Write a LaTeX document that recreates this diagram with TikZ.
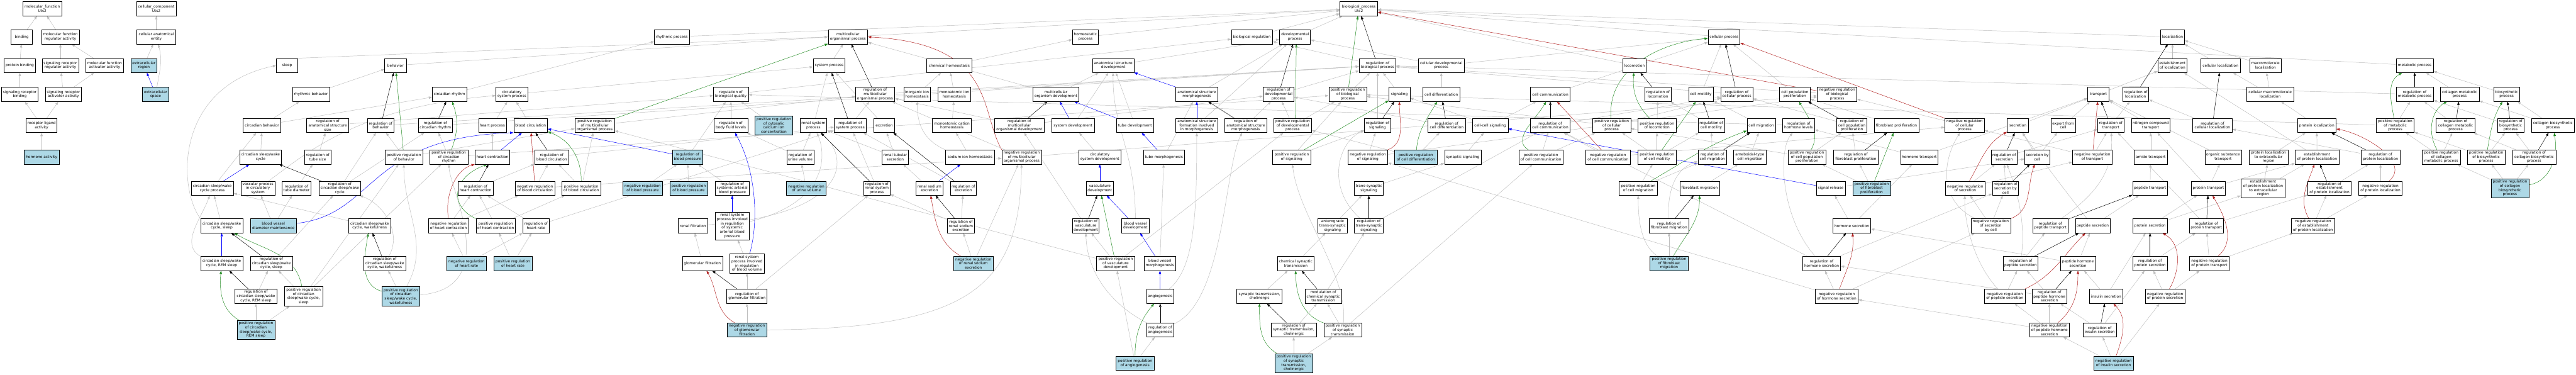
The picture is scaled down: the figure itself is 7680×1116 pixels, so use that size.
\documentclass[tikz,border=0pt]{standalone}
\usepackage{fontspec}
\newfontfamily\gofont{DejaVu Sans}
\usetikzlibrary{arrows.meta}
\definecolor{edgegray}{RGB}{190,190,190}
\definecolor{lblue}{RGB}{173,216,230}
\definecolor{posgreen}{RGB}{34,139,34}
\definecolor{negred}{RGB}{178,34,34}
\pgfdeclarelayer{bg}
\pgfsetlayers{bg,main}
\tikzset{
 n/.style={draw=black, line width=1pt, fill=white, rectangle, align=center, inner xsep=2pt, inner ysep=1pt, minimum height=42pt, font=\gofont\fontsize{11}{12.5}\selectfont},
 nb/.style={n, fill=lblue},
 W/.style={minimum width=#1pt},
 H/.style={minimum height=#1pt},
 e/.style={draw=edgegray, line width=0.9pt, -{Triangle[length=10pt,width=7pt]}},
 eb/.style={e, draw=black},
 eg/.style={e, draw=posgreen},
 er/.style={e, draw=negred},
 ebl/.style={e, draw=blue}
}
\begin{document}
\begin{tikzpicture}[x=1pt,y=1pt]
\useasboundingbox (0,0) rectangle (7680,-1116);
\begin{pgfonlayer}{bg}\fill[white] (0,0) rectangle (7680,-1116);\end{pgfonlayer}
% R0
\node[n,W=116] (mf) at (126,-26) {molecular\_function\\Uts2};
\node[n,W=119] (cc) at (466,-26) {cellular\_component\\Uts2};
\node[n,W=112] (bp) at (4051,-26) {biological\_process\\Uts2};
% R1
\node[n,W=64] (binding) at (65,-110) {binding};
\node[n,W=113] (mfra) at (180,-110) {molecular function\\regulator activity};
\node[n,W=116] (cae) at (466,-110) {cellular anatomical\\entity};
\node[n,W=104] (rhyp) at (2003,-110) {rhythmic process};
\node[n,W=118] (mop) at (2528,-110) {multicellular\\organismal process};
\node[n,W=77] (homp) at (3236,-110) {homeostatic\\process};
\node[n,W=122] (bioreg) at (3732,-110) {biological regulation};
\node[n,W=92] (devp) at (3861,-110) {developmental\\process};
\node[n,W=95] (cellp) at (5140,-110) {cellular process};
\node[n,W=71] (loc) at (6477,-110) {localization};
% R2
\node[n,W=93] (pbind) at (59,-195) {protein binding};
\node[n,W=109] (srra) at (180,-195) {signaling receptor\\regulator activity};
\node[n,W=113] (mfaa) at (312,-195) {molecular function\\activator activity};
\node[nb,W=78] (ecr) at (429,-195) {extracellular\\region};
\node[n,W=64] (sleep) at (856,-195) {sleep};
\node[n,W=64] (behav) at (1179,-195) {behavior};
\node[n,W=95] (sysp) at (2472,-195) {system process};
\node[n,W=134] (chemh) at (2830,-195) {chemical homeostasis};
\node[n,W=125] (asd) at (3319,-195) {anatomical structure\\development};
\node[n,W=109] (rbp) at (4107,-195) {regulation of\\biological process};
\node[n,W=138] (cdp) at (4297,-195) {cellular developmental\\process};
\node[n,W=69] (locom) at (4873,-195) {locomotion};
\node[n,W=87] (estloc) at (6477,-195) {establishment\\of localization};
\node[n,W=118] (cellloc) at (6620,-195) {cellular localization};
\node[n,W=95] (macloc) at (6754,-195) {macromolecule\\localization};
\node[n,W=111] (metp) at (7199,-195) {metabolic process};
% R3
\node[n,W=109] (srb) at (59,-281) {signaling receptor\\binding};
\node[n,W=108] (sraa) at (189,-281) {signaling receptor\\activator activity};
\node[nb,W=78] (ecs) at (464,-281) {extracellular\\space};
\node[n,W=111] (rhyb) at (927,-281) {rhythmic behavior};
\node[n,W=102] (circr) at (1340,-281) {circadian rhythm};
\node[n,W=95] (csp) at (1526,-281) {circulatory\\system process};
\node[n,W=104] (rbq) at (2179,-281) {regulation of\\biological quality};
\node[n,W=117] (rmop) at (2609,-281) {regulation of\\multicellular\\organismal process};
\node[n,W=80] (inorgh) at (2734,-281) {inorganic ion\\homeostasis};
\node[n,W=99] (monoh) at (2845,-281) {monoatomic ion\\homeostasis};
\node[n,W=138] (mod) at (3148,-281) {multicellular\\organism development};
\node[n,W=125] (asm) at (3568,-281) {anatomical structure\\morphogenesis};
\node[n,W=92] (rdp) at (3812,-281) {regulation of\\developmental\\process};
\node[n,W=113] (prbp) at (4018,-281) {positive regulation\\of biological\\process};
\node[n,W=63] (signaling) at (4172,-281) {signaling};
\node[n,W=111] (celldiff) at (4297,-281) {cell differentiation};
\node[n,W=118] (cellcomm) at (4622,-281) {cell communication};
\node[n,W=78] (rlocom) at (4943,-281) {regulation of\\locomotion};
\node[n,W=74] (cellmot) at (5071,-281) {cell motility};
\node[n,W=95] (rcp) at (5178,-281) {regulation of\\cellular process};
\node[n,W=91] (cpp) at (5351,-281) {cell population\\proliferation};
\node[n,W=118] (nrbp) at (5477,-281) {negative regulation\\of biological\\process};
\node[n,W=64] (transport) at (6256,-281) {transport};
\node[n,W=78] (rloc) at (6367,-281) {regulation of\\localization};
\node[n,W=140] (cmacloc) at (6768,-281) {cellular macromolecule\\localization};
\node[n,W=111] (rmetp) at (7199,-281) {regulation of\\metabolic process};
\node[n,W=116] (collmp) at (7333,-281) {collagen metabolic\\process};
\node[n,W=76] (biosyn) at (7473,-281) {biosynthetic\\process};
% R4
\node[n,W=92] (rla) at (124,-374) {receptor ligand\\activity};
\node[n,W=112] (circb) at (781,-374) {circadian behavior};
\node[n,W=125] (rass) at (977,-374) {regulation of\\anatomical structure\\size};
\node[n,W=78] (rbehav) at (1135,-374) {regulation of\\behavior};
\node[n,W=102] (rcircr) at (1298,-374) {regulation of\\circadian rhythm};
\node[n,W=83] (heartp) at (1468,-374) {heart process};
\node[n,W=101] (bloodc) at (1582,-374) {blood circulation};
\node[n,W=118] (prmop) at (1773,-374) {positive regulation\\of multicellular\\organismal process};
\node[n,W=100] (rbfl) at (2179,-374) {regulation of\\body fluid levels};
\node[nb,W=113,H=57] (prcca) at (2307,-374) {positive regulation\\of cytosolic\\calcium ion\\concentration};
\node[n,W=80] (rsp) at (2425,-374) {renal system\\process};
\node[n,W=96] (rsysp) at (2535,-374) {regulation of\\system process};
\node[n,W=63] (excr) at (2636,-374) {excretion};
\node[n,W=116] (monoch) at (2838,-374) {monoatomic cation\\homeostasis};
\node[n,W=149] (rmod) at (3039,-374) {regulation of\\multicellular\\organismal development};
\node[n,W=127] (sysdev) at (3199,-374) {system development};
\node[n,W=111] (tubedev) at (3384,-374) {tube development};
\node[n,W=125] (asfm) at (3568,-374) {anatomical structure\\formation involved\\in morphogenesis};
\node[n,W=125] (rasm) at (3714,-374) {regulation of\\anatomical structure\\morphogenesis};
\node[n,W=113] (prdp) at (3854,-374) {positive regulation\\of developmental\\process};
\node[n,W=78] (rsig) at (4107,-374) {regulation of\\signaling};
\node[n,W=111] (rcd) at (4313,-374) {regulation of\\cell differentiation};
\node[n,W=106] (ccs) at (4443,-374) {cell-cell signaling};
\node[n,W=118] (rcc) at (4622,-374) {regulation of\\cell communication};
\node[n,W=113] (prcp) at (4805,-374) {positive regulation\\of cellular\\process};
\node[n,W=113] (prlocom) at (4940,-374) {positive regulation\\of locomotion};
\node[n,W=78] (rcm) at (5102,-374) {regulation of\\cell motility};
\node[n,W=84] (cellmig) at (5251,-374) {cell migration};
\node[n,W=95] (rhl) at (5362,-374) {regulation of\\hormone levels};
\node[n,W=90] (rcpp) at (5521,-374) {regulation of\\cell population\\proliferation};
\node[n,W=133] (fibprol) at (5654,-374) {fibroblast proliferation};
\node[n,W=118] (nrcp) at (5857,-374) {negative regulation\\of cellular\\process};
\node[n,W=64] (secretion) at (6016,-374) {secretion};
\node[n,W=73] (efc) at (6151,-374) {export from\\cell};
\node[n,W=78] (rtransport) at (6293,-374) {regulation of\\transport};
\node[n,W=116] (nct) at (6412,-374) {nitrogen compound\\transport};
\node[n,W=118] (rcl) at (6596,-374) {regulation of\\cellular localization};
\node[n,W=116] (protloc) at (6907,-374) {protein localization};
\node[n,W=113] (prmetp) at (7141,-374) {positive regulation\\of metabolic\\process};
\node[n,W=116] (rcollmp) at (7321,-374) {regulation of\\collagen metabolic\\process};
\node[n,W=78] (rbiosyn) at (7485,-374) {regulation of\\biosynthetic\\process};
\node[n,W=128] (collbp) at (7611,-374) {collagen biosynthetic\\process};
% R5
\node[nb,W=104] (hormact) at (124,-468) {hormone activity};
\node[n,W=125] (cswc) at (777,-468) {circadian sleep/wake\\cycle};
\node[n,W=79] (rtubesize) at (947,-468) {regulation of\\tube size};
\node[n,W=113] (prbehav) at (1204,-468) {positive regulation\\of behavior};
\node[n,W=114] (prcircr) at (1338,-468) {positive regulation\\of circadian\\rhythm};
\node[n,W=104] (heartc) at (1468,-468) {heart contraction};
\node[n,W=102] (rbloodc) at (1645,-468) {regulation of\\blood circulation};
\node[nb,W=90] (rbpres) at (2050,-468) {regulation of\\blood pressure};
\node[n,W=81] (ruv) at (2386,-468) {regulation of\\urine volume};
\node[n,W=78] (rts) at (2669,-468) {renal tubular\\secretion};
\node[n,W=146] (sodh) at (2892,-468) {sodium ion homeostasis};
\node[n,W=118] (nrmop) at (3046,-468) {negative regulation\\of multicellular\\organismal process};
\node[n,W=127] (csd) at (3279,-468) {circulatory\\system development};
\node[n,W=122] (tubemorph) at (3470,-468) {tube morphogenesis};
\node[n,W=114] (prsig) at (3851,-468) {positive regulation\\of signaling};
\node[n,W=118] (nrsig) at (4078,-468) {negative regulation\\of signaling};
\node[nb,W=126] (prcd) at (4221,-468) {positive regulation\\of cell differentiation};
\node[n,W=109] (synsig) at (4361,-468) {synaptic signaling};
\node[n,W=132] (prcc) at (4594,-468) {positive regulation\\of cell communication};
\node[n,W=133] (nrcc) at (4794,-468) {negative regulation\\of cell communication};
\node[n,W=113] (prcm) at (4940,-468) {positive regulation\\of cell motility};
\node[n,W=85] (rcmig) at (5105,-468) {regulation of\\cell migration};
\node[n,W=97] (amcm) at (5217,-468) {ameboidal-type\\cell migration};
\node[n,W=113] (prcpp) at (5387,-468) {positive regulation\\of cell population\\proliferation};
\node[n,W=133] (rfibprol) at (5533,-468) {regulation of\\fibroblast proliferation};
\node[n,W=112] (hormtr) at (5722,-468) {hormone transport};
\node[n,W=78] (rsecr) at (5975,-468) {regulation of\\secretion};
\node[n,W=75] (sbc) at (6074,-468) {secretion by\\cell};
\node[n,W=118] (nrtransport) at (6238,-468) {negative regulation\\of transport};
\node[n,W=98] (amidet) at (6412,-468) {amide transport};
\node[n,W=109] (ost) at (6628,-468) {organic substance\\transport};
\node[n,W=116] (ple) at (6763,-468) {protein localization\\to extracellular\\region};
\node[n,W=130] (epl) at (6908,-468) {establishment\\of protein localization};
\node[n,W=117] (rpl) at (7097,-468) {regulation of\\protein localization};
\node[n,W=113] (prcollmp) at (7278,-468) {positive regulation\\of collagen\\metabolic process};
\node[n,W=113] (prbiosyn) at (7412,-468) {positive regulation\\of biosynthetic\\process};
\node[n,W=129] (rcollbp) at (7555,-468) {regulation of\\collagen biosynthetic\\process};
% R6
\node[n,W=126] (cswcp) at (633,-561) {circadian sleep/wake\\cycle process};
\node[n,W=101] (vpcs) at (769,-561) {vascular process\\in circulatory\\system};
\node[n,W=87] (rtd) at (884,-561) {regulation of\\tube diameter};
\node[n,W=125] (rcswc) at (1013,-561) {regulation of\\circadian sleep/wake\\cycle};
\node[n,W=104] (rhc) at (1418,-561) {regulation of\\heart contraction};
\node[n,W=118] (nrbc) at (1595,-561) {negative regulation\\of blood circulation};
\node[n,W=116] (prbc) at (1733,-561) {positive regulation\\of blood circulation};
\node[nb,W=118] (nrbpres) at (1916,-561) {negative regulation\\of blood pressure};
\node[nb,W=113] (prbpres) at (2053,-561) {positive regulation\\of blood pressure};
\node[n,W=102] (rsabp) at (2183,-561) {regulation of\\systemic arterial\\blood pressure};
\node[nb,W=118] (nruv) at (2404,-561) {negative regulation\\of urine volume};
\node[n,W=80] (rrsp) at (2614,-561) {regulation of\\renal system\\process};
\node[n,W=80] (rse) at (2771,-561) {renal sodium\\excretion};
\node[n,W=78] (rexcr) at (2872,-561) {regulation of\\excretion};
\node[n,W=81] (vascdev) at (3279,-561) {vasculature\\development};
\node[n,W=87] (tss) at (4081,-561) {trans-synaptic\\signaling};
\node[n,W=113] (prcmig) at (4884,-561) {positive regulation\\of cell migration};
\node[n,W=118] (fibmig) at (5067,-561) {fibroblast migration};
\node[n,W=86] (sigrel) at (5458,-561) {signal release};
\node[nb,W=113] (prfibprol) at (5580,-561) {positive regulation\\of fibroblast\\proliferation};
\node[n,W=118] (nrsecr) at (5859,-561) {negative regulation\\of secretion};
\node[n,W=78] (rsbc) at (5979,-561) {regulation of\\secretion by\\cell};
\node[n,W=104] (peptr) at (6410,-561) {peptide transport};
\node[n,W=102] (prottr) at (6584,-561) {protein transport};
\node[n,W=131,H=57] (eplex) at (6747,-561) {establishment\\of protein localization\\to extracellular\\region};
\node[n,W=130] (repl) at (6945,-561) {regulation of\\establishment\\of protein localization};
\node[n,W=129] (nrpl) at (7097,-561) {negative regulation\\of protein localization};
\node[nb,W=113,H=57] (prcollbp) at (7483,-561) {positive regulation\\of collagen\\biosynthetic\\process};
% R7
\node[n,W=126] (cswcs) at (661,-673) {circadian sleep/wake\\cycle, sleep};
\node[nb,W=137] (bvdm) at (815,-673) {blood vessel\\diameter maintenance};
\node[n,W=126] (cswcw) at (1102,-673) {circadian sleep/wake\\cycle, wakefulness};
\node[n,W=119] (nrhc) at (1337,-673) {negative regulation\\of heart contraction};
\node[n,W=118] (prhc) at (1478,-673) {positive regulation\\of heart contraction};
\node[n,W=79] (rhr) at (1598,-673) {regulation of\\heart rate};
\node[n,W=87] (renfilt) at (2066,-673) {renal filtration};
\node[n,W=102,H=83] (rspsabp) at (2183,-673) {renal system\\process involved\\in regulation\\of systemic\\arterial blood\\pressure};
\node[n,W=80] (rrse) at (2865,-673) {regulation of\\renal sodium\\excretion};
\node[n,W=80] (rvd) at (3237,-673) {regulation of\\vasculature\\development};
\node[n,W=81] (bvd) at (3385,-673) {blood vessel\\development};
\node[n,W=87] (ats) at (3973,-673) {anterograde\\trans-synaptic\\signaling};
\node[n,W=87] (rtss) at (4081,-673) {regulation of\\trans-synaptic\\signaling};
\node[n,W=118] (rfibmig) at (4976,-673) {regulation of\\fibroblast migration};
\node[n,W=113] (hormsec) at (5521,-673) {hormone secretion};
\node[n,W=118] (nrsbc) at (5935,-673) {negative regulation\\of secretion\\by cell};
\node[n,W=105] (rpeptr) at (6113,-673) {regulation of\\peptide transport};
\node[n,W=104] (pepsec) at (6239,-673) {peptide secretion};
\node[n,W=102] (protsec) at (6410,-673) {protein secretion};
\node[n,W=101] (rprottr) at (6578,-673) {regulation of\\protein transport};
\node[n,W=130] (nrepl) at (6896,-673) {negative regulation\\of establishment\\of protein localization};
% R8
\node[n,W=126] (cswcr) at (661,-785) {circadian sleep/wake\\cycle, REM sleep};
\node[n,W=125] (rcswcs) at (809,-785) {regulation of\\circadian sleep/wake\\cycle, sleep};
\node[n,W=126] (rcswcw) at (1147,-785) {regulation of\\circadian sleep/wake\\cycle, wakefulness};
\node[nb,W=118] (nrhr) at (1391,-785) {negative regulation\\of heart rate};
\node[nb,W=114] (prhr) at (1529,-785) {positive regulation\\of heart rate};
\node[n,W=120] (glomf) at (2094,-785) {glomerular filtration};
\node[n,W=102,H=57] (rspbv) at (2227,-785) {renal system\\process involved\\in regulation\\of blood volume};
\node[nb,W=118] (nrrse) at (2902,-785) {negative regulation\\of renal sodium\\excretion};
\node[n,W=113] (prvd) at (3326,-785) {positive regulation\\of vasculature\\development};
\node[n,W=94] (bvm) at (3458,-785) {blood vessel\\morphogenesis};
\node[n,W=109] (csyn) at (3863,-785) {chemical synaptic\\transmission};
\node[nb,W=113] (prfibmig) at (4976,-785) {positive regulation\\of fibroblast\\migration};
\node[n,W=113] (rhormsec) at (5431,-785) {regulation of\\hormone secretion};
\node[n,W=104] (rpepsec) at (6024,-785) {regulation of\\peptide secretion};
\node[n,W=104] (phsec) at (6195,-785) {peptide hormone\\secretion};
\node[n,W=103] (rprotsec) at (6410,-785) {regulation of\\protein secretion};
\node[n,W=118] (nrprottr) at (6587,-785) {negative regulation\\of protein transport};
% R9
\node[n,W=126] (rcswcr) at (763,-883) {regulation of\\circadian sleep/wake\\cycle, REM sleep};
\node[n,W=113,H=57] (prcswcs) at (905,-883) {positive regulation\\of circadian\\sleep/wake cycle,\\sleep};
\node[nb,W=113,H=57] (prcswcw) at (1195,-883) {positive regulation\\of circadian\\sleep/wake cycle,\\wakefulness};
\node[n,W=120] (rglomf) at (2227,-883) {regulation of\\glomerular filtration};
\node[n,W=81] (angio) at (3459,-883) {angiogenesis};
\node[n,W=135] (stc) at (3755,-883) {synaptic transmission,\\cholinergic};
\node[n,W=109] (mcst) at (3945,-883) {modulation of\\chemical synaptic\\transmission};
\node[n,W=128] (nrhormsec) at (5476,-883) {negative regulation\\of hormone secretion};
\node[n,W=121] (nrpepsec) at (5977,-883) {negative regulation\\of peptide secretion};
\node[n,W=103] (rphsec) at (6110,-883) {regulation of\\peptide hormone\\secretion};
\node[n,W=99] (inssec) at (6279,-883) {insulin secretion};
\node[n,W=118] (nrprotsec) at (6455,-883) {negative regulation\\of protein secretion};
% R10
\node[nb,W=113,H=57] (prcswcr) at (763,-983) {positive regulation\\of circadian\\sleep/wake cycle,\\REM sleep};
\node[nb,W=118] (nrglomf) at (2227,-983) {negative regulation\\of glomerular\\filtration};
\node[n,W=81] (rangio) at (3459,-983) {regulation of\\angiogenesis};
\node[n,W=136] (rstc) at (3857,-983) {regulation of\\synaptic transmission,\\cholinergic};
\node[n,W=113] (prst) at (4003,-983) {positive regulation\\of synaptic\\transmission};
\node[n,W=119] (nrphsec) at (6110,-983) {negative regulation\\of peptide hormone\\secretion};
\node[n,W=100] (rinssec) at (6260,-983) {regulation of\\insulin secretion};
% R11
\node[nb,W=113] (prangio) at (3384,-1082) {positive regulation\\of angiogenesis};
\node[nb,W=113,H=57] (prstc) at (3857,-1082) {positive regulation\\of synaptic\\transmission,\\cholinergic};
\node[nb,W=118] (nrinssec) at (6301,-1082) {negative regulation\\of insulin secretion};

\begin{pgfonlayer}{bg}
% MF / CC
\draw[e] (binding) -- (mf);
\draw[e] (mfra) -- (mf);
\draw[e] (pbind) -- (binding);
\draw[e] (srra) -- (mfra);
\draw[e] (mfaa) -- (mfra);
\draw[e] (srb) -- (pbind);
\draw[e] (sraa) -- (srra);
\draw[e] (sraa) -- (mfaa);
\draw[e] (rla) -- (srb);
\draw[e] (rla) -- (sraa);
\draw[e] (hormact) -- (rla);
\draw[e] (cae) -- (cc);
\draw[e] (ecr) -- (cae);
\draw[ebl] (ecs) -- (ecr);
\draw[e] (ecs) to[out=80,in=-75] (cae);
% behaviour / sleep
\draw[e] (sleep.north east) -- (mop.west);
\draw[e] (behav) -- (mop.west);
\draw[e] (rhyb) -- (behav);
\draw[e] (circb) -- (rhyb);
\draw[e] (circb) -- (circr);
\draw[eb] (rbehav) -- (behav);
\draw[eg] (prbehav) -- (behav);
\draw[e] (prbehav) -- (rbehav);
\draw[e] (prbehav) -- (prmop);
\draw[e] (rbehav) -- (rbp);
% circadian
\draw[e] (cswc) -- (circb);
\draw[ebl] (cswcp) -- (cswc);
\draw[e] (cswcp) -- (circb);
\draw[eb] (rcswc) -- (cswc);
\draw[e] (rcswc) -- (rbehav);
\draw[e] (rcswc) -- (rcircr);
\draw[e] (cswcs) -- (cswcp);
\draw[e] (cswcs.north west) .. controls (530,-560) and (520,-260) .. (sleep.west);
\draw[ebl] (cswcr) -- (cswcs);
\draw[e] (cswcr.north west) to[out=150,in=-110] (cswcp);
\draw[e] (cswcw) -- (cswcp);
\draw[eb] (rcswcw) -- (cswcw);
\draw[e] (rcswcw) to[out=60,in=-20] (rcswc);
\draw[eg] (prcswcw) to[out=165,in=-100] (cswcw);
\draw[e] (prcswcw) -- (rcswcw);
\draw[e] (prcswcw) to[out=60,in=-90] (prbehav);
\draw[e] (prcswcw) .. controls (1500,-860) and (1340,-560) .. (prcircr);
\draw[eb] (rcswcs) -- (cswcs);
\draw[e] (rcswcs) -- (rcswc);
\draw[eg] (prcswcs) to[out=100,in=-30] (cswcs);
\draw[e] (prcswcs) -- (rcswcs);
\draw[e] (prcswcs) -- (prbehav);
\draw[e] (prcswcs) -- (prcircr);
\draw[eb] (rcswcr) -- (cswcr);
\draw[e] (rcswcr) -- (rcswcs);
\draw[eg] (prcswcr) to[out=150,in=-95] (cswcr);
\draw[e] (prcswcr) -- (rcswcr);
\draw[e] (prcswcr) -- (prcswcs);
% circadian rhythm
\draw[e] (circr) -- (rhyp);
\draw[eb] (rcircr) -- (circr);
\draw[e] (rcircr) -- (rbp);
\draw[eg] (prcircr) to[out=70,in=-70] (circr);
\draw[e] (prcircr) -- (rcircr);
\draw[e] (prcircr) -- (prbp);
% circulation
\draw[e] (vpcs) .. controls (900,-470) and (1050,-320) .. (csp);
\draw[e] (rtubesize) -- (rass);
\draw[e] (rtd) -- (rtubesize);
\draw[e] (rass) -- (rbq);
\draw[e] (bvdm) -- (vpcs);
\draw[e] (bvdm) -- (rtd);
\draw[ebl] (bvdm) .. controls (1120,-640) and (1090,-410) .. (bloodc.south west);
\draw[e] (heartp) -- (csp);
\draw[e] (bloodc) -- (csp);
\draw[e] (csp) -- (sysp);
\draw[e] (heartc) -- (heartp);
\draw[ebl] (heartc) -- (bloodc);
\draw[eb] (rbloodc) -- (bloodc);
\draw[e] (rbloodc) -- (rsysp);
\draw[er] (nrbc) -- (bloodc);
\draw[e] (nrbc) -- (rbloodc);
\draw[e] (nrbc) -- (nrmop);
\draw[eg] (prbc) to[out=90,in=-20] (bloodc);
\draw[e] (prbc) -- (rbloodc);
\draw[e] (prbc) -- (prmop);
\draw[eb] (rhc) -- (heartc);
\draw[e] (rhc) -- (rbloodc);
\draw[er] (nrhc.north) .. controls (1325,-580) and (1360,-505) .. (heartc.south west);
\draw[e] (nrhc) -- (rhc);
\draw[e] (nrhc) -- (nrbc);
\draw[eg] (prhc.north west) .. controls (1340,-615) and (1345,-530) .. (heartc.-125);
\draw[e] (prhc) -- (rhc);
\draw[e] (prhc) -- (prbc);
\draw[e] (rhr) -- (rhc);
\draw[e] (rhr) -- (rsysp);
\draw[e] (nrhr) -- (nrhc);
\draw[e] (nrhr) -- (rhr);
\draw[e] (prhr) -- (prhc);
\draw[e] (prhr) -- (rhr);
\draw[eg] (prmop) -- (mop);
\draw[e] (prmop) -- (rmop);
% blood pressure / renal
\draw[e] (rbpres) -- (rbq);
\draw[ebl] (rbpres) -- (bloodc);
\draw[e] (nrbpres) -- (rbpres);
\draw[e] (prbpres) -- (rbpres);
\draw[e] (rsabp) -- (rbpres);
\draw[ebl] (rspsabp) -- (rsabp);
\draw[e] (rspsabp) .. controls (2480,-600) and (2460,-450) .. (rsp);
\draw[e] (rbq) -- (bioreg);
\draw[e] (rbfl) -- (rbq);
\draw[e] (prcca) -- (rbq);
\draw[e] (rsp) -- (sysp);
\draw[eb] (rsysp) -- (sysp);
\draw[e] (rsysp) -- (rmop);
\draw[e] (ruv) -- (rsp);
\draw[e] (ruv) -- (rbfl);
\draw[e] (nruv) -- (ruv);
\draw[e] (renfilt) .. controls (2520,-640) and (2540,-480) .. (rsp);
\draw[e] (glomf) -- (renfilt);
\draw[ebl] (rspbv) .. controls (2265,-650) and (2250,-500) .. (rbfl);
\draw[e] (rspbv) -- (rspsabp);
\draw[eb] (rglomf) -- (glomf);
\draw[e] (rglomf) -- (rspbv);
\draw[e] (rglomf) -- (rrsp);
\draw[er] (nrglomf) to[out=150,in=-60] (glomf);
\draw[e] (nrglomf) -- (rglomf);
\draw[e] (nrglomf.east) .. controls (2900,-980) and (3040,-850) .. (nrmop);
% homeostasis / multicellular
\draw[e] (sysp) -- (mop);
\draw[eb] (rmop) -- (mop);
\draw[e] (rmop) -- (rbp);
\draw[e] (chemh) -- (homp);
\draw[e] (inorgh) -- (chemh);
\draw[e] (monoh) -- (chemh);
\draw[e] (monoch) -- (monoh);
\draw[e] (sodh) -- (monoch);
\draw[e] (sodh.north west) .. controls (2760,-420) and (2735,-380) .. (inorgh);
\draw[e] (mod) -- (mop);
\draw[e] (mod) -- (asd);
\draw[er] (nrmop.north west) .. controls (2920,-330) and (2970,-130) .. (mop.east);
\draw[e] (nrmop) -- (rmop);
\draw[e] (nrmop) -- (nrbp);
\draw[eb] (rmod) -- (mod);
\draw[e] (rmod) -- (rmop);
\draw[e] (rmod) -- (rdp);
\draw[ebl] (sysdev) -- (mod);
\draw[e] (sysdev) -- (asd);
\draw[e] (excr) -- (sysp);
\draw[e] (rts) -- (excr);
\draw[e] (rts) -- (rsp);
\draw[ebl] (rse) -- (sodh);
\draw[e] (rse) -- (rts);
\draw[eb] (rexcr) -- (excr);
\draw[e] (rexcr) -- (rsysp);
\draw[eb] (rrsp) -- (rsp);
\draw[e] (rrsp) -- (rsysp);
\draw[eb] (rrse) -- (rse);
\draw[e] (rrse) -- (rexcr);
\draw[e] (rrse) -- (rrsp);
\draw[er] (nrrse) to[out=150,in=-80] (rse);
\draw[e] (nrrse) -- (rrse);
\draw[e] (nrrse) -- (nrmop);
% development
\draw[e] (asd) -- (devp);
\draw[ebl] (asm) -- (asd);
\draw[e] (asm) -- (devp);
\draw[e] (tubedev) -- (asd);
\draw[ebl] (tubedev) -- (mod);
\draw[ebl] (asfm) -- (asm);
\draw[e] (asfm) -- (devp);
\draw[eb] (rasm) -- (asm);
\draw[e] (rasm) -- (rdp);
\draw[eb] (rdp) -- (devp);
\draw[e] (rdp) -- (rbp);
\draw[eg] (prdp.70) -- (devp.-80);
\draw[e] (prdp) -- (rdp);
\draw[e] (prdp) -- (prbp);
\draw[e] (csd) -- (sysdev);
\draw[ebl] (tubemorph) -- (tubedev);
\draw[e] (tubemorph) -- (asm);
\draw[ebl] (vascdev) -- (csd);
\draw[eb] (rvd) -- (vascdev);
\draw[e] (rvd) -- (rmod);
\draw[ebl] (bvd) -- (vascdev);
\draw[e] (bvd) .. controls (3385,-450) and (3316,-380) .. (asd);
\draw[eg] (prvd) -- (vascdev);
\draw[e] (prvd) -- (rvd);
\draw[e] (prvd) -- (prdp);
\draw[e] (prvd) -- (prmop);
\draw[ebl] (bvm) -- (bvd);
\draw[e] (bvm) -- (tubemorph);
\draw[ebl] (angio) -- (bvm);
\draw[e] (angio) .. controls (3560,-800) and (3568,-650) .. (asfm);
\draw[eb] (rangio) -- (angio);
\draw[e] (rangio) .. controls (3300,-900) and (3240,-800) .. (rvd);
\draw[e] (rangio) .. controls (3650,-900) and (3650,-500) .. (rasm);
\draw[eg] (prangio) to[out=90,in=-130] (angio);
\draw[e] (prangio) -- (rangio);
\draw[e] (prangio) -- (prvd);
% top level
\draw[e] (rhyp) -- (bp);
\draw[e] (mop) -- (bp);
\draw[e] (homp) -- (bp);
\draw[e] (bioreg) -- (bp);
\draw[e] (devp) -- (bp);
\draw[e] (cellp) -- (bp);
\draw[e] (loc) -- (bp);
\draw[e] (locom) -- (bp);
\draw[e] (metp) -- (bp);
\draw[eb] (rbp) -- (bp);
\draw[e] (rbp) -- (bioreg);
\draw[eg] (prbp) -- (bp);
\draw[e] (prbp) -- (rbp);
\draw[er] (nrbp) -- (bp);
\draw[e] (nrbp) -- (rbp);
% signaling
\draw[e] (signaling) -- (rbp);
\draw[eb] (rsig) -- (signaling);
\draw[e] (rsig) -- (rbp);
\draw[er] (nrsig) to[out=20,in=-90] (signaling);
\draw[e] (nrsig) -- (rsig);
\draw[e] (nrsig) -- (nrbp);
\draw[eg] (prsig) -- (signaling);
\draw[e] (prsig) -- (rsig);
\draw[e] (prsig) -- (prbp);
\draw[e] (cdp) -- (devp);
\draw[e] (cdp) -- (cellp);
\draw[e] (celldiff) -- (cdp);
\draw[eb] (rcd) -- (celldiff);
\draw[e] (rcd) -- (rdp);
\draw[eg] (prcd) to[out=85,in=-120] (celldiff);
\draw[e] (prcd) -- (rcd);
\draw[e] (prcd) -- (prdp);
\draw[e] (ccs) -- (signaling);
\draw[e] (ccs) -- (cellcomm);
\draw[e] (synsig) -- (ccs);
\draw[e] (tss) -- (synsig);
\draw[e] (ats) -- (tss);
\draw[eb] (rtss) -- (tss);
\draw[e] (rtss) .. controls (3950,-560) and (3990,-420) .. (rsig);
\draw[e] (rtss) -- (rcc);
\draw[e] (csyn) -- (ats);
\draw[eb] (mcst) -- (csyn);
\draw[e] (mcst) -- (rtss);
\draw[eg] (prst) to[out=160,in=-90] (csyn);
\draw[e] (prst) -- (mcst);
\draw[e] (prst) .. controls (4020,-820) and (3870,-640) .. (prsig);
\draw[e] (prst) -- (prcc);
\draw[e] (stc) -- (csyn);
\draw[eb] (rstc) -- (stc);
\draw[e] (rstc) -- (mcst);
\draw[eg] (prstc) to[out=150,in=-90] (stc);
\draw[e] (prstc) -- (rstc);
\draw[e] (prstc) -- (prst);
% cell
\draw[e] (cellcomm) -- (cellp);
\draw[eb] (rcc) -- (cellcomm);
\draw[e] (rcc) -- (rcp);
\draw[eg] (prcc) to[out=150,in=-120] (cellcomm);
\draw[e] (prcc) -- (rcc);
\draw[e] (prcc) -- (prcp);
\draw[er] (nrcc) -- (cellcomm);
\draw[e] (nrcc) -- (rcc);
\draw[e] (nrcc) -- (nrcp);
\draw[eg] (prcp) to[out=95,in=185] (cellp);
\draw[e] (prcp) -- (rcp);
\draw[e] (prcp) -- (prbp);
\draw[eb] (rlocom) -- (locom);
\draw[eg] (prlocom) to[out=135,in=-95] (locom);
\draw[e] (prlocom) -- (rlocom);
\draw[e] (cellmot) -- (cellp);
\draw[eb] (rcm) -- (cellmot);
\draw[e] (rcm) -- (rlocom);
\draw[eg] (prcm) -- (cellmot);
\draw[e] (prcm) -- (prlocom);
\draw[e] (prcm) -- (rcm);
\draw[e] (prcm) -- (prcp);
\draw[e] (rcmig) -- (rcm);
\draw[eb] (rcmig) -- (cellmig);
\draw[e] (prcmig) -- (prcm);
\draw[e] (prcmig) -- (rcmig);
\draw[eg] (prcmig) to[out=30,in=-160] (cellmig);
\draw[e] (cellmig) -- (cellmot);
\draw[e] (amcm) -- (cellmig);
\draw[e] (fibmig) -- (amcm);
\draw[eb] (rfibmig) -- (fibmig);
\draw[e] (rfibmig) .. controls (4970,-560) and (5000,-500) .. (rcmig);
\draw[eg] (prfibmig) to[out=60,in=-90] (fibmig);
\draw[e] (prfibmig) -- (rfibmig);
\draw[e] (prfibmig) .. controls (4890,-730) and (4884,-650) .. (prcmig);
\draw[eb] (rcp) -- (cellp);
\draw[e] (rcp) -- (rbp);
\draw[e] (cpp) -- (cellp);
\draw[eb] (rcpp) -- (cpp);
\draw[e] (rcpp) -- (rcp);
\draw[e] (fibprol) -- (cpp);
\draw[eg] (prcpp) to[out=60,in=-60] (cpp);
\draw[e] (prcpp) -- (rcpp);
\draw[e] (prcpp) -- (prcp);
\draw[eb] (rfibprol) -- (fibprol);
\draw[e] (rfibprol) -- (rcpp);
\draw[eg] (prfibprol) -- (fibprol);
\draw[e] (prfibprol) -- (rfibprol);
\draw[e] (prfibprol) -- (prcpp);
\draw[e] (rhl) -- (rbq);
\draw[e] (hormtr) -- (rhl);
\draw[e] (hormtr) -- (transport);
\draw[ebl] (sigrel) -- (ccs);
\draw[e] (sigrel) -- (sbc);
\draw[e] (hormsec) -- (sigrel);
\draw[e] (hormsec) -- (hormtr);
\draw[eb] (rhormsec) -- (hormsec);
\draw[e] (rhormsec) .. controls (5310,-650) and (5300,-450) .. (rhl);
\draw[e] (rhormsec) -- (rcc);
\draw[e] (rhormsec) -- (rsbc);
\draw[e] (nrhormsec) -- (rhormsec);
\draw[er] (nrhormsec) to[out=70,in=-85] (hormsec);
\draw[e] (nrhormsec) -- (nrsig);
\draw[e] (nrhormsec) -- (nrsbc);
\draw[er] (nrcp) -- (cellp);
\draw[e] (nrcp) -- (nrbp);
% transport / secretion
\draw[e] (transport) -- (estloc);
\draw[eb] (rloc) -- (loc);
\draw[e] (secretion) -- (transport);
\draw[e] (efc) -- (transport);
\draw[eb] (rtransport) -- (transport);
\draw[e] (rtransport) -- (rloc);
\draw[e] (nct) -- (transport);
\draw[eb] (rsecr) -- (secretion);
\draw[e] (rsecr) -- (rtransport);
\draw[e] (sbc) -- (secretion);
\draw[e] (sbc) -- (efc);
\draw[er] (nrtransport) -- (transport);
\draw[e] (nrtransport) -- (rtransport);
\draw[e] (nrtransport) -- (nrcp);
\draw[e] (amidet) -- (nct);
\draw[er] (nrsecr) to[out=60,in=-150] (secretion);
\draw[e] (nrsecr) -- (rsecr);
\draw[e] (nrsecr) -- (nrtransport);
\draw[eb] (rsbc) -- (sbc);
\draw[e] (rsbc) -- (rsecr);
\draw[e] (peptr) -- (amidet);
\draw[er] (nrsbc.20) to[out=20,in=-110] (sbc);
\draw[e] (nrsbc) -- (rsbc);
\draw[e] (nrsbc) -- (nrsecr);
\draw[e] (nrsbc) .. controls (5780,-600) and (5790,-480) .. (nrcp);
\draw[eb] (rpeptr) -- (peptr);
\draw[e] (rpeptr) .. controls (6280,-560) and (6300,-480) .. (rtransport);
\draw[e] (pepsec) .. controls (6150,-560) and (6060,-440) .. (secretion);
\draw[e] (pepsec) -- (peptr);
\draw[eb] (rpepsec) -- (pepsec);
\draw[e] (rpepsec) -- (rpeptr);
\draw[e] (rpepsec) .. controls (6040,-650) and (6010,-560) .. (rsecr);
\draw[e] (phsec) -- (pepsec);
\draw[e] (phsec) -- (hormsec);
\draw[er] (nrpepsec.20) to[out=25,in=-135] (pepsec);
\draw[e] (nrpepsec) -- (rpepsec);
\draw[e] (nrpepsec) .. controls (5880,-780) and (5855,-650) .. (nrsecr);
\draw[eb] (rphsec) -- (phsec);
\draw[e] (rphsec) -- (rpepsec);
\draw[e] (rphsec) -- (rhormsec);
\draw[e] (inssec) -- (phsec);
\draw[e] (inssec) -- (protsec);
\draw[eb] (rinssec) -- (inssec);
\draw[e] (rinssec) -- (rphsec);
\draw[e] (rinssec) -- (rprotsec);
\draw[er] (nrinssec) to[out=70,in=-45] (inssec);
\draw[e] (nrinssec) -- (rinssec);
\draw[e] (nrinssec) -- (nrphsec);
\draw[e] (nrinssec) -- (nrprotsec);
\draw[er] (nrphsec) to[out=40,in=-90] (phsec);
\draw[e] (nrphsec) -- (rphsec);
\draw[e] (nrphsec) -- (nrpepsec);
\draw[e] (nrphsec) -- (nrhormsec);
\draw[e] (protsec) -- (prottr);
\draw[e] (protsec) -- (eplex);
\draw[eb] (rprotsec) -- (protsec);
\draw[e] (rprotsec) -- (rprottr);
\draw[er] (nrprotsec) to[out=60,in=-30] (protsec);
\draw[e] (nrprotsec) -- (rprotsec);
\draw[e] (nrprotsec) -- (nrprottr);
% localization
\draw[e] (estloc) -- (loc);
\draw[e] (cellloc) -- (loc);
\draw[e] (macloc) -- (loc);
\draw[e] (cmacloc) -- (macloc);
\draw[e] (cmacloc) -- (cellloc);
\draw[eb] (rcl) -- (cellloc);
\draw[e] (rcl) -- (rloc);
\draw[e] (protloc) -- (cmacloc);
\draw[e] (ost) -- (transport);
\draw[e] (prottr) -- (nct);
\draw[e] (prottr) -- (ost);
\draw[e] (prottr) -- (epl);
\draw[e] (ple) -- (protloc);
\draw[e] (epl) -- (protloc);
\draw[e] (epl) -- (estloc);
\draw[eb] (rpl) -- (protloc);
\draw[e] (rpl) -- (rcl);
\draw[e] (eplex) -- (ple);
\draw[e] (eplex) -- (epl);
\draw[eb] (repl) -- (epl);
\draw[e] (repl) -- (rpl);
\draw[er] (nrpl) to[out=40,in=-10] (protloc);
\draw[e] (nrpl) -- (rpl);
\draw[eb] (rprottr) -- (prottr);
\draw[e] (rprottr) -- (repl);
\draw[e] (rprottr) -- (rtransport);
\draw[er] (nrepl) to[out=120,in=-110] (epl);
\draw[e] (nrepl) -- (repl);
\draw[e] (nrepl) -- (nrpl);
\draw[e] (nrprottr) -- (rprottr);
\draw[er] (nrprottr) to[out=40,in=-60] (prottr);
\draw[e] (nrprottr) -- (nrepl);
% metabolic
\draw[eb] (rmetp) -- (metp);
\draw[e] (rmetp) -- (rbp);
\draw[e] (collmp) -- (metp);
\draw[e] (biosyn) -- (metp);
\draw[eg] (prmetp) to[out=100,in=-150] (metp);
\draw[e] (prmetp) -- (rmetp);
\draw[e] (prmetp) -- (prbp);
\draw[eb] (rcollmp) -- (collmp);
\draw[e] (rcollmp) -- (rmetp);
\draw[eb] (rbiosyn) -- (biosyn);
\draw[e] (rbiosyn) -- (rmetp);
\draw[e] (collbp) -- (biosyn);
\draw[e] (collbp) -- (collmp);
\draw[eg] (prcollmp) to[out=120,in=-150] (collmp);
\draw[e] (prcollmp) -- (rcollmp);
\draw[e] (prcollmp) -- (prmetp);
\draw[eg] (prbiosyn) to[out=80,in=-120] (biosyn);
\draw[e] (prbiosyn) -- (rbiosyn);
\draw[e] (prbiosyn) -- (prmetp);
\draw[eb] (rcollbp) -- (collbp);
\draw[e] (rcollbp) -- (rbiosyn);
\draw[e] (rcollbp) -- (rcollmp);
\draw[eg] (prcollbp) to[out=10,in=-80] (collbp);
\draw[e] (prcollbp) -- (rcollbp);
\draw[e] (prcollbp) -- (prbiosyn);
\draw[e] (prcollbp) -- (prcollmp);
\end{pgfonlayer}
\end{tikzpicture}
\end{document}
